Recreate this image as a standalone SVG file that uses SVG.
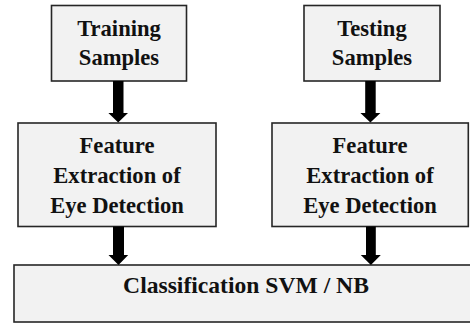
<svg xmlns="http://www.w3.org/2000/svg" width="470" height="324" viewBox="0 0 470 324">
  <style>
    .box { fill: #f2f2f2; stroke: #262626; stroke-width: 1.6; }
    .lbl { font-family: 'Liberation Serif', 'Times New Roman', Times, 'DejaVu Serif', serif; font-weight: 700; font-size: 22.6px; fill: #111; text-anchor: middle; }
    .lbl.wide { font-size: 23.6px; }
    .arrow { fill: #000; }
  </style>
  <rect width="470" height="324" fill="#fff"/>

  <g id="training">
    <rect class="box" x="51.5" y="5.5" width="135" height="75.5"/>
    <text class="lbl" x="119" y="36">Training</text>
    <text class="lbl" x="119" y="65">Samples</text>
  </g>

  <g id="testing">
    <rect class="box" x="304" y="5.5" width="136" height="75.5"/>
    <text class="lbl" x="372" y="36">Testing</text>
    <text class="lbl" x="372" y="65">Samples</text>
  </g>

  <g id="feature-train">
    <rect class="box" x="18" y="123" width="198" height="103.5"/>
    <text class="lbl" x="117" y="153.3">Feature</text>
    <text class="lbl" x="117" y="183.3">Extraction of</text>
    <text class="lbl" x="117" y="213.3">Eye Detection</text>
  </g>

  <g id="feature-test">
    <rect class="box" x="272" y="123" width="196.3" height="103.5"/>
    <text class="lbl" x="370" y="153.3">Feature</text>
    <text class="lbl" x="370" y="183.3">Extraction of</text>
    <text class="lbl" x="370" y="213.3">Eye Detection</text>
  </g>

  <g id="classification">
    <rect class="box" x="14" y="265" width="458" height="57"/>
    <text class="lbl wide" x="246" y="293.3">Classification SVM / NB</text>
  </g>

  <g id="connectors">
    <polygon class="arrow" points="113,81 123.5,81 123.5,113 128,113 118.2,122.5 108.4,113 113,113"/>
    <polygon class="arrow" points="365.2,81 375.7,81 375.7,113 380.4,113 370.4,122.5 360.4,113 365.2,113"/>
    <polygon class="arrow" points="113,226.5 124,226.5 124,255 128.2,255 118.5,265 108.5,255 113,255"/>
    <polygon class="arrow" points="366,226.5 375.8,226.5 375.8,255 380.8,255 370.9,265 360.8,255 366,255"/>
  </g>
</svg>
